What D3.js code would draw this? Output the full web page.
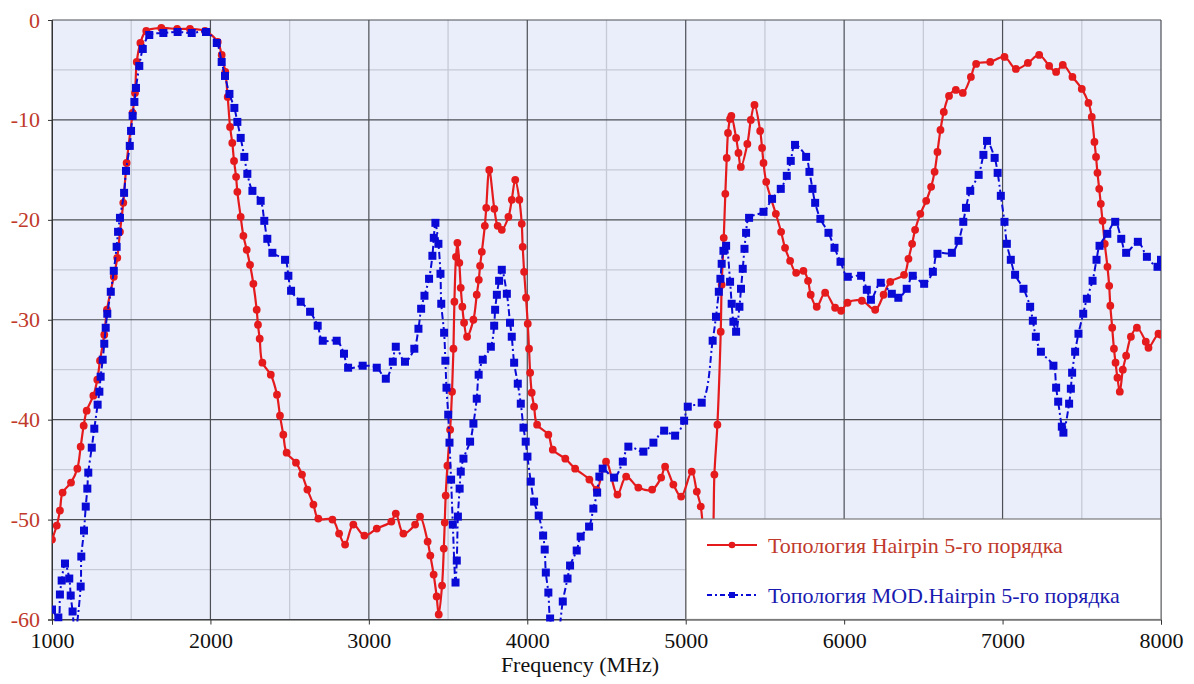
<!DOCTYPE html>
<html><head><meta charset="utf-8">
<script src="https://cdn.jsdelivr.net/npm/d3@7"></script>
<style>html,body{margin:0;padding:0;background:#fff;}svg{display:block;}
svg text{font-family:"Liberation Serif","Tinos","DejaVu Serif","Times New Roman",serif;}</style>
</head><body>
<svg id="chart" width="1194" height="684"></svg>
<script>
const xTicks = [1000,2000,3000,4000,5000,6000,7000,8000];
const yTicks = [0,-10,-20,-30,-40,-50,-60];
const xLabel = "Frequency (MHz)";
const seriesNames = ["Топология Hairpin 5-го порядка","Топология MOD.Hairpin 5-го порядка"];

const redFreq = [1000,1030,1050,1067,1120,1160,1181,1200,1219,1261,1286,1303,1330,1347,1390,1412,1429,1450,1471,1509,1524,1535,1558,1595,1690,1790,1871,1966,2046,2071,2094,2109,2124,2138,2149,2162,2170,2191,2208,2229,2250,2271,2292,2300,2311,2328,2381,2420,2439,2460,2481,2540,2578,2612,2650,2681,2770,2812,2850,2902,2972,3050,3142,3170,3218,3292,3323,3371,3388,3409,3428,3441,3462,3473,3479,3485,3496,3513,3525,3534,3540,3550,3559,3571,3580,3590,3601,3620,3660,3681,3694,3702,3713,3732,3741,3760,3792,3813,3839,3881,3902,3924,3950,3965,3971,3980,3992,4003,4011,4018,4028,4043,4062,4133,4161,4240,4302,4392,4438,4497,4569,4624,4701,4788,4845,4870,4922,4971,5038,5070,5095,5120,5150,5172,5181,5200,5221,5227,5240,5250,5259,5267,5280,5288,5318,5333,5348,5389,5411,5434,5470,5482,5491,5508,5569,5602,5627,5659,5697,5743,5772,5789,5827,5880,5943,5981,6021,6112,6196,6249,6291,6378,6406,6429,6448,6481,6518,6549,6571,6589,6608,6629,6662,6705,6749,6800,6833,6922,7012,7084,7160,7231,7294,7338,7380,7441,7500,7542,7563,7580,7590,7599,7610,7620,7631,7645,7662,7673,7680,7692,7703,7713,7725,7740,7759,7780,7810,7848,7904,7921,7984,8000];
const redDb = [-52.0,-50.6,-49.1,-47.3,-46.3,-44.9,-42.7,-40.6,-39.1,-37.6,-36.0,-34.1,-31.5,-29.0,-25.7,-23.8,-21.2,-18.3,-14.3,-9.3,-7.3,-4.2,-2.3,-1.1,-0.8,-0.9,-0.9,-1.1,-2.2,-3.5,-5.2,-7.7,-10.7,-12.3,-14.1,-15.7,-17.2,-19.7,-21.6,-23.0,-24.5,-26.4,-29.0,-30.5,-31.9,-34.3,-35.5,-37.5,-39.6,-41.5,-43.3,-44.3,-45.5,-47.0,-48.5,-49.9,-50.0,-51.4,-52.5,-50.5,-51.6,-50.9,-50.2,-49.4,-51.4,-50.5,-49.7,-52.2,-53.6,-55.5,-57.7,-59.5,-56.6,-52.9,-50.3,-47.6,-44.6,-41.0,-37.2,-32.9,-28.2,-23.7,-22.3,-24.3,-26.8,-28.7,-30.3,-31.7,-30.0,-27.5,-26.0,-24.6,-23.2,-20.6,-18.8,-15.0,-18.9,-20.6,-21.0,-19.7,-18.0,-16.0,-18.0,-20.4,-22.7,-25.2,-27.8,-30.4,-32.9,-35.3,-37.3,-38.7,-40.5,-41.5,-43.0,-43.9,-44.9,-46.0,-47.0,-44.2,-47.5,-45.7,-46.8,-47.0,-45.8,-44.7,-46.5,-47.7,-45.2,-47.2,-48.7,-53.0,-56.0,-52.0,-45.5,-40.5,-31.2,-26.5,-21.8,-17.4,-13.8,-11.3,-9.9,-9.6,-11.8,-13.3,-14.7,-12.4,-10.0,-8.5,-11.1,-12.8,-14.3,-16.2,-19.4,-21.2,-22.8,-24.1,-25.3,-25.1,-26.1,-27.5,-28.7,-27.3,-28.8,-29.1,-28.3,-28.1,-29.0,-27.5,-26.2,-25.5,-23.9,-22.4,-21.0,-19.4,-18.1,-16.7,-15.2,-13.2,-11.0,-9.2,-7.6,-7.0,-7.3,-5.7,-4.4,-4.2,-3.7,-4.9,-4.3,-3.5,-4.6,-5.2,-4.5,-5.7,-6.9,-8.3,-9.7,-12.2,-13.7,-15.3,-16.9,-18.4,-20.1,-22.4,-24.7,-26.6,-28.6,-30.8,-32.9,-34.3,-35.8,-37.2,-35.0,-33.6,-31.7,-30.8,-32.2,-32.8,-31.4,-31.5];

const blueFreq = [1000,1040,1050,1061,1082,1109,1118,1130,1145,1181,1185,1202,1213,1223,1229,1251,1267,1288,1299,1307,1320,1330,1339,1349,1371,1390,1408,1417,1429,1455,1467,1491,1499,1509,1520,1530,1551,1573,1614,1703,1793,1882,1972,2040,2071,2092,2120,2151,2170,2191,2214,2233,2265,2317,2340,2359,2391,2471,2492,2509,2570,2629,2677,2709,2797,2843,2869,2961,3050,3107,3151,3170,3228,3287,3313,3330,3351,3380,3401,3410,3420,3439,3452,3457,3475,3483,3490,3501,3509,3519,3530,3547,3555,3562,3573,3580,3597,3639,3660,3681,3693,3719,3770,3791,3797,3808,3822,3839,3871,3891,3902,3917,3940,3959,3976,3990,4001,4022,4043,4072,4100,4110,4117,4133,4144,4185,4224,4254,4270,4312,4337,4390,4417,4441,4455,4476,4548,4603,4638,4733,4796,4864,4933,4990,5013,5101,5170,5191,5209,5219,5227,5238,5255,5280,5290,5301,5318,5339,5349,5360,5371,5381,5400,5491,5545,5600,5638,5663,5690,5760,5781,5800,5817,5850,5901,5939,5977,6023,6107,6143,6169,6231,6301,6342,6395,6433,6505,6560,6589,6680,6722,6752,6769,6796,6849,6879,6902,6950,6969,6989,7012,7027,7052,7079,7132,7174,7191,7210,7242,7321,7338,7351,7374,7384,7420,7431,7439,7458,7479,7509,7532,7568,7593,7612,7661,7711,7749,7780,7854,7911,7978,8000];
const blueDb = [-59.0,-59.8,-57.5,-56.1,-54.4,-55.9,-57.6,-59.2,-61.5,-56.7,-53.7,-51.1,-48.7,-46.9,-45.3,-42.8,-40.9,-38.5,-37.2,-35.7,-34.0,-32.4,-30.8,-29.4,-27.2,-25.1,-22.7,-21.2,-19.8,-17.3,-15.1,-12.6,-11.1,-9.6,-8.2,-6.8,-4.6,-2.9,-1.5,-1.3,-1.2,-1.3,-1.2,-2.3,-4.2,-5.6,-7.4,-8.8,-10.2,-11.8,-13.7,-15.4,-17.1,-18.1,-20.1,-21.9,-23.3,-24.0,-25.6,-27.1,-28.2,-29.2,-30.6,-32.1,-32.1,-33.4,-34.8,-34.6,-34.8,-35.9,-34.2,-32.7,-34.2,-32.9,-30.9,-28.9,-27.6,-25.9,-23.6,-21.8,-20.3,-22.4,-25.4,-28.4,-31.3,-34.1,-36.8,-39.5,-42.3,-46.0,-50.5,-56.3,-54.1,-49.7,-46.9,-45.2,-43.9,-42.2,-40.4,-37.9,-35.5,-34.0,-32.7,-30.6,-29.0,-27.5,-26.1,-25.0,-27.4,-30.3,-31.7,-34.3,-36.4,-38.4,-40.8,-42.2,-43.7,-46.2,-48.2,-49.6,-51.6,-53.0,-55.3,-57.3,-59.9,-62.5,-58.2,-55.9,-54.6,-53.1,-51.7,-50.7,-48.9,-47.3,-45.7,-44.9,-45.8,-44.2,-42.7,-43.2,-42.3,-41.1,-41.6,-40.1,-38.7,-38.3,-32.1,-29.7,-27.2,-25.9,-24.4,-23.1,-22.6,-26.2,-28.4,-30.2,-31.2,-28.7,-26.9,-24.9,-22.9,-21.3,-19.8,-19.2,-17.9,-16.9,-15.6,-14.1,-12.5,-13.7,-15.2,-16.9,-18.3,-19.9,-21.3,-22.8,-24.2,-25.7,-25.6,-27.0,-28.0,-26.3,-27.4,-27.8,-26.9,-25.6,-26.4,-25.2,-23.4,-23.3,-22.1,-20.2,-18.8,-17.1,-15.5,-13.5,-12.1,-13.8,-15.3,-17.6,-20.2,-22.4,-24.0,-25.5,-26.9,-28.7,-30.1,-31.7,-33.2,-34.6,-36.8,-38.2,-40.7,-41.3,-38.4,-36.9,-35.3,-33.2,-31.4,-29.4,-27.9,-26.1,-24.0,-22.6,-21.4,-20.2,-21.9,-23.3,-22.2,-23.7,-24.7,-24.0];

const svg = d3.select("#chart");
const L = 52, R = 1161, T = 20, B = 619.5;
const x = d3.scaleLinear().domain([1000, 8000]).range([L, R]);
const y = d3.scaleLinear().domain([-60, 0]).range([B, T]);
const RED = "#e41a1c", BLUE = "#0a0ad6", TICKRED = "#c0392b";
const serif = "Liberation Serif, Tinos, DejaVu Serif, Times New Roman, serif";

svg.append("rect").attr("x", L).attr("y", T).attr("width", R - L).attr("height", B - T).attr("fill", "#e9eefa");

// minor grid
const minorX = d3.range(1500, 8000, 1000), minorY = d3.range(-55, 0, 10);
svg.append("g").selectAll("line").data(minorX).join("line")
  .attr("x1", d => x(d)).attr("x2", d => x(d)).attr("y1", T).attr("y2", B)
  .attr("stroke", "#c6cad6").attr("stroke-width", 1.3);
svg.append("g").selectAll("line").data(minorY).join("line")
  .attr("y1", d => y(d)).attr("y2", d => y(d)).attr("x1", L).attr("x2", R)
  .attr("stroke", "#c6cad6").attr("stroke-width", 1.3);
// major grid
svg.append("g").selectAll("line").data(xTicks).join("line")
  .attr("x1", d => x(d)).attr("x2", d => x(d)).attr("y1", T).attr("y2", B)
  .attr("stroke", "#4d4f55").attr("stroke-width", 1.2);
svg.append("g").selectAll("line").data(yTicks).join("line")
  .attr("y1", d => y(d)).attr("y2", d => y(d)).attr("x1", L).attr("x2", R)
  .attr("stroke", "#4d4f55").attr("stroke-width", 1.2);

// axes
const xAxis = d3.axisBottom(x).tickValues(xTicks).tickSize(5).tickPadding(8).tickFormat(d3.format("d"));
const gx = svg.append("g").attr("transform", `translate(0,${B})`).call(xAxis).attr("font-family", null);
gx.select(".domain").attr("stroke", "#333");
gx.selectAll(".tick line").attr("stroke", "#333");
gx.selectAll("text").style("font-family", serif).attr("font-size", 22).attr("fill", "#111");

const yAxis = d3.axisLeft(y).tickValues(yTicks).tickSize(4).tickPadding(8).tickFormat(d => String(d));
const gy = svg.append("g").attr("transform", `translate(${L},0)`).call(yAxis).attr("font-family", null);
gy.select(".domain").attr("stroke", "#333");
gy.selectAll(".tick line").attr("stroke", "#333");
gy.selectAll("text").style("font-family", serif).attr("font-size", 22).attr("fill", TICKRED);

svg.append("text").attr("x", 580).attr("y", 672).attr("text-anchor", "middle")
  .style("font-family", serif).attr("font-size", 22).attr("fill", "#111").text(xLabel);

// clip
svg.append("clipPath").attr("id", "clip").append("rect")
  .attr("x", L).attr("y", T - 2).attr("width", R - L).attr("height", B - T + 4);

const redData = redFreq.map((f, i) => ({f, v: redDb[i]}));
const blueData = blueFreq.map((f, i) => ({f, v: blueDb[i]}));
const line = d3.line().x(d => x(d.f)).y(d => y(d.v)).curve(d3.curveCatmullRom.alpha(0.5));

const plot = svg.append("g").attr("clip-path", "url(#clip)");
plot.append("path").datum(redData).attr("d", line).attr("fill", "none")
  .attr("stroke", RED).attr("stroke-width", 2.2);
plot.append("g").selectAll("circle").data(redData).join("circle")
  .attr("cx", d => x(d.f)).attr("cy", d => y(d.v)).attr("r", 3.9).attr("fill", RED);

plot.append("path").datum(blueData).attr("d", line).attr("fill", "none")
  .attr("stroke", BLUE).attr("stroke-width", 2).attr("stroke-dasharray", "7,3,2,3");
plot.append("g").selectAll("rect").data(blueData).join("rect")
  .attr("x", d => x(d.f) - 4).attr("y", d => y(d.v) - 4).attr("width", 8).attr("height", 8).attr("fill", BLUE);

// legend
const lg = svg.append("g");
lg.append("rect").attr("x", 686).attr("y", 519).attr("width", R - 686).attr("height", B - 519)
  .attr("fill", "#fff").attr("stroke", "#7a7a7a").attr("stroke-width", 1.2);
const legendItems = [
  {name: seriesNames[0], color: RED, dash: null, y: 545, text: "#c0392b"},
  {name: seriesNames[1], color: BLUE, dash: "5,3,2,3", y: 595, text: "#1a1ab0"}
];
legendItems.forEach((it, i) => {
  lg.append("line").attr("x1", 707).attr("x2", 757).attr("y1", it.y).attr("y2", it.y)
    .attr("stroke", it.color).attr("stroke-width", 2).attr("stroke-dasharray", it.dash);
  if (i === 0) lg.append("circle").attr("cx", 732).attr("cy", it.y).attr("r", 3.3).attr("fill", it.color);
  else lg.append("rect").attr("x", 729).attr("y", it.y - 3).attr("width", 6).attr("height", 6).attr("fill", it.color);
  lg.append("text").attr("x", 768).attr("y", it.y + 8).style("font-family", serif).attr("font-size", 22)
    .attr("fill", it.text).text(it.name);
});
</script>
</body></html>
